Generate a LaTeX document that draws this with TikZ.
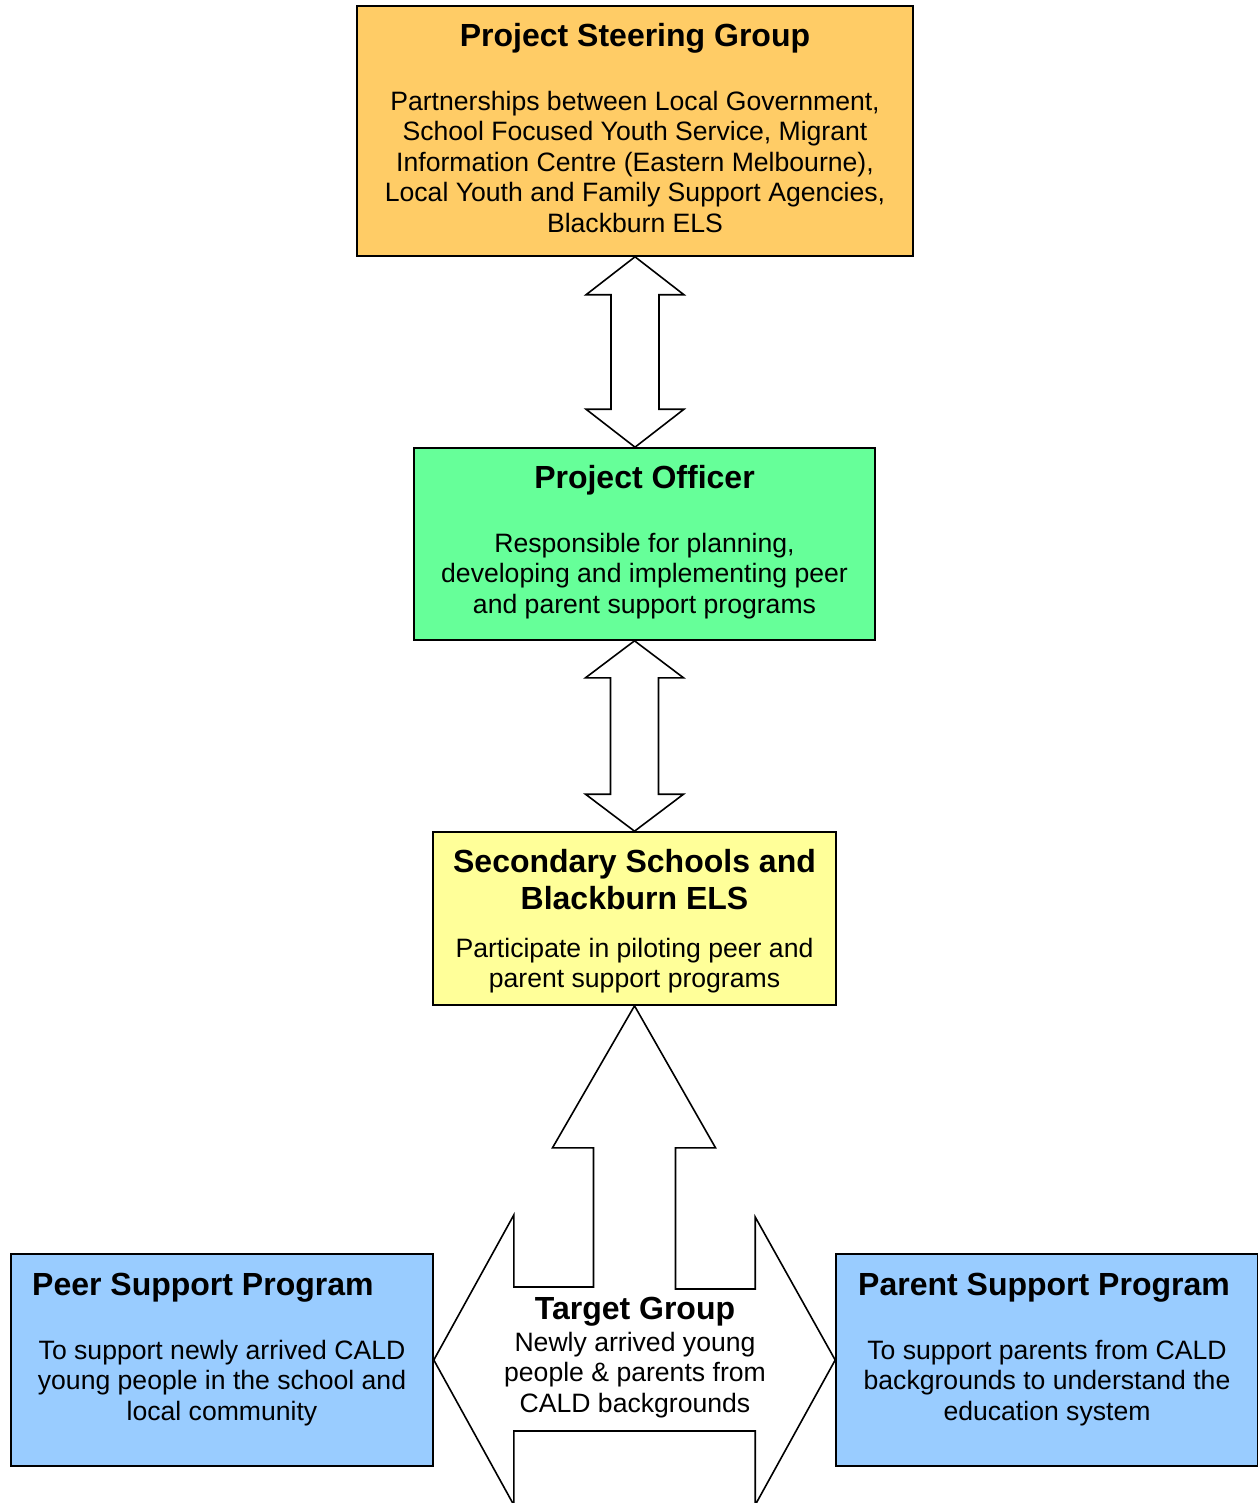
\documentclass[tikz,border=0pt]{standalone}
\usepackage{fontspec}
\setmainfont{Liberation Sans}
\usetikzlibrary{calc}

\definecolor{steerfill}{HTML}{FFCC66}
\definecolor{officerfill}{HTML}{66FF99}
\definecolor{schoolfill}{HTML}{FFFF99}
\definecolor{programfill}{HTML}{99CCFF}

\begin{document}
\begin{tikzpicture}[x=1pt,y=-1pt,
  box/.style={draw=black,line width=1.6pt,inner sep=0pt},
  title/.style={font=\fontsize{32}{37}\selectfont\bfseries,align=center,inner sep=0pt},
  body/.style={font=\fontsize{26.6}{30.5}\selectfont,align=center,inner sep=0pt},
  fatarrow/.style={draw=black,line width=1.6pt,fill=white,line join=miter}]
\useasboundingbox (0,0) rectangle (1257,1503);

\node (psg) at (635,131) [box,fill=steerfill,minimum width=556,minimum height=250] {};
\node (po) at (644.5,544) [box,fill=officerfill,minimum width=461,minimum height=192] {};
\node (ss) at (634.5,918.5) [box,fill=schoolfill,minimum width=403,minimum height=173] {};
\node (peersp) at (222,1360) [box,fill=programfill,minimum width=422,minimum height=212] {};
\node (parsp) at (1047,1360) [box,fill=programfill,minimum width=422,minimum height=212] {};

% double arrows between the boxes
\draw[fatarrow] (psg.south) -- ++(49,38) -- ++(-25,0)
  -- ($(psg.south |- po.north)+(24,-38)$) -- ++(25,0) -- (psg.south |- po.north)
  -- ++(-49,-38) -- ++(25,0) -- ($(psg.south)+(-24,38)$) -- ++(-25,0) -- cycle;
\draw[fatarrow] (ss.north) -- ++(49,-37) -- ++(-25,0)
  -- ($(ss.north |- po.south)+(24,37)$) -- ++(25,0) -- (ss.north |- po.south)
  -- ++(-49,37) -- ++(25,0) -- ($(ss.north)+(-24,-37)$) -- ++(-25,0) -- cycle;

\draw[fatarrow] (ss.south) -- ++(81,142) -- ++(-40,0)
  |- ($(parsp.west)+(-80,-71)$) -- ++(0,-72) -- (parsp.west)
  -- ++(-80,145) -- ++(0,-74) -| ($(peersp.east)+(80,145)$) -- (peersp.east)
  -- ++(80,-145) -- ++(0,72) -| ($(ss.south)+(-41,142)$) -- ++(-41,0) -- cycle;

\node (psgt) at (635,47) [title,anchor=base] {Project Steering Group};
\node (psgb) at (635,91) [body,anchor=north] {Partnerships between Local Government,\\School Focused Youth Service, Migrant\\Information Centre (Eastern Melbourne),\\Local Youth and Family Support Agencies,\\Blackburn ELS};

\node (pot) at (644.5,488) [title,anchor=base] {Project Officer};
\node (pob) at (644.5,533) [body,anchor=north] {Responsible for planning,\\developing and implementing peer\\and parent support programs};

\node (sst) at (634.5,849) [title,anchor=north] {Secondary Schools and\\Blackburn ELS};
\node (ssb) at (634.5,938) [body,anchor=north] {Participate in piloting peer and\\parent support programs};

\node (peert) at (32,1295) [title,anchor=base west] {Peer Support Program};
\node (peerb) at (222,1340) [body,anchor=north] {To support newly arrived CALD\\young people in the school and\\local community};

\node (part) at (858,1295) [title,anchor=base west] {Parent Support Program};
\node (parb) at (1047,1340) [body,anchor=north] {To support parents from CALD\\backgrounds to understand the\\education system};

\node (tgt) at (635,1319) [title,anchor=base] {Target Group};
\node (tgb) at (635,1332) [body,anchor=north] {Newly arrived young\\people \& parents from\\CALD backgrounds};
\end{tikzpicture}
\end{document}
